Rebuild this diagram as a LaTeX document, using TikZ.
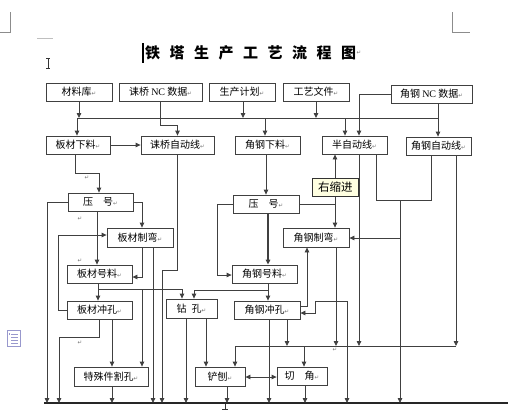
\documentclass[tikz,border=0pt]{standalone}
\usepackage{fontspec}
\setmainfont{Liberation Serif}
\newfontfamily\cjk{Noto Sans CJK SC}
\newfontfamily\symf{DejaVu Sans}
\usetikzlibrary{arrows.meta}
\newcommand\pmk{{\symf\fontsize{5.5}{6}\selectfont\textcolor{black!55}{↵}}}
\newcommand\tsp{\hspace{9.5pt}}
\begin{document}
\begin{tikzpicture}[x=1pt,y=-1pt,
  box/.style={draw=black!75, line width=0.8pt, fill=white, minimum height=18pt, inner sep=0pt, font=\cjk\fontsize{10}{12}\selectfont},
  ln/.style={draw=black!75, line width=0.8pt},
  arr/.style={ln, -{Triangle[length=5pt,width=4.5pt]}},
  darr/.style={ln, {Triangle[length=5pt,width=4.5pt]}-{Triangle[length=5pt,width=4.5pt]}},
  pm/.style={inner sep=0pt}
]
\fill[white] (0,0) rectangle (508,410);
\useasboundingbox (0,0) rectangle (508,410);

% page marks
\draw[black!45, line width=0.7pt] (10,12) -- (10,32) -- (0,32);
\draw[black!45, line width=0.7pt] (452,12) -- (452,32) -- (470,32);
\draw[black!25, line width=0.7pt] (37,38) -- (53,38);
\draw[black!80, line width=0.7pt] (48,58) -- (48,68) (46,58) -- (50,58) (46,68) -- (50,68);
% doc icon
\draw[blue!35!gray!60, line width=0.7pt] (7,330) rectangle (20,346);
\foreach \yy in {334,337,340,343} \draw[blue!35!gray!60, line width=0.6pt] (11,\yy) -- (18,\yy);
\fill[blue!35!gray!60] (8.5,332.5) rectangle (10,335);

% title
\draw[black, line width=1.3pt] (143,43) -- (143,63);
\node[pm, anchor=west] (title) at (145,53) {\cjk\bfseries\fontsize{15}{16}\selectfont 铁\tsp 塔\tsp 生\tsp 产\tsp 工\tsp 艺\tsp 流\tsp 程\tsp 图};
\node[pm, anchor=west] (titlepm) at (title.east) {\pmk};

% row 1
\node[box, minimum width=66pt] (clk)  at (79,92)    {材料库\pmk};
\node[box, minimum width=83pt] (nc1)  at (160.5,92) {诔桥 {\rmfamily NC} 数据\pmk};
\node[box, minimum width=66pt] (plan) at (242,92)   {生产计划\pmk};
\node[box, minimum width=66pt] (doc)  at (316,92)   {工艺文件\pmk};
\node[box, minimum width=81pt] (nc2)  at (431.5,94) {角钢 {\rmfamily NC} 数据\pmk};
% row 2
\node[box, minimum width=64pt] (bxl)   at (78,145)    {板材下料\pmk};
\node[box, minimum width=73pt] (line1) at (177.5,145) {诔桥自动线\pmk};
\node[box, minimum width=65pt] (axl)   at (267.5,145) {角钢下料\pmk};
\node[box, minimum width=65pt] (semi)  at (354.5,145) {半自动线\pmk};
\node[box, minimum width=65pt] (aline) at (438.5,146) {角钢自动线\pmk};
% middle
\node[box, minimum width=65pt] (yh1) at (100.5,202) {压\hspace{1em}号\pmk};
\node[box, minimum width=66pt] (yh2) at (266,204)   {压\hspace{1em}号\pmk};
\node[box, minimum width=66pt, minimum height=19pt] (bzw) at (140,237.5) {板材制弯\pmk};
\node[box, minimum width=66pt, minimum height=19pt] (azw) at (316,237.5) {角钢制弯\pmk};
\node[box, minimum width=65pt] (bhl) at (99.5,274) {板材号料\pmk};
\node[box, minimum width=65pt] (ahl) at (264.5,274) {角钢号料\pmk};
\node[box, minimum width=65pt] (bck) at (99.5,310) {板材冲孔\pmk};
\node[box, minimum width=51pt, minimum height=19pt] (zk) at (191.5,308.5) {钻\hspace{0.5em}孔\pmk};
\node[box, minimum width=66pt] (ack) at (267,310) {角钢冲孔\pmk};
% bottom
\node[box, minimum width=74pt, minimum height=19pt] (tsj) at (111,376.5) {特殊件割孔\pmk};
\node[box, minimum width=50pt, minimum height=19pt] (cb)  at (220,376.5) {铲刨\pmk};
\node[box, minimum width=50pt] (qj) at (302,376) {切\hspace{1em}角\pmk};

% bottom bus
\coordinate (busL) at (44,403);
\coordinate (busR) at (508,403);
\draw[black!85, line width=1.8pt] (busL) -- (busR);
\draw[black!80, line width=0.7pt] (225,404) -- (225,409) (222,409) -- (228,409);

% top bus
\draw[arr] (438,118) -- (77,118) -- (bxl.north -| 77,0);
\draw[arr] (clk.south) -- (79,118);
\draw[arr] (plan.south -| 243,0) -- (243,118);
\draw[arr] (doc.south) -- (316,118);
\draw[arr] (265,118) -- (axl.north -| 265,0);
\draw[arr] (345,118) -- (semi.north -| 345,0);
\draw[arr] (nc2.south -| 438,0) -- (aline.north -| 438,0);
\draw[arr] (nc2.west) -- (359,94) -- (semi.north -| 359,0);
\draw[arr] (nc1.south) -- (160.5,125) -- (177.5,125) -- (line1.north);

% row 2
\draw[arr] (bxl.east) -- (line1.west);
\draw[arr] (bxl.south -| 75,0) -- (75,173) -- (99,173) -- (yh1.north -| 99,0);
\draw[arr] (axl.south -| 266,0) -- (yh2.north -| 266,0);

% plate side
\draw[arr] (yh1.west) -- (47,202) -- (47 ,403);
\draw[arr] (yh1.east) -- (142,202) -- (bzw.north -| 142,0);
\draw[arr] (yh1.south -| 97,0) -- (bhl.north -| 97,0);
\draw[arr] (bck.west) -- (58,310) -- (58,235) -- (bzw.west |- 0,235);
\draw[arr] (bzw.south -| 142,0) -- (142,277) -- (bhl.east |- 0,277);
\draw[arr] (bzw.south -| 153,0) -- (153,403);
\draw[arr] (line1.south -| 177,0) -- (177,270) -- (162,270) -- (162,403);
\draw[arr] (bhl.south -| 98,0) -- (bck.north -| 98,0);
\draw[arr] (98,289) -- (182,289) -- (zk.north -| 182,0);
\draw[arr] (142,289) -- (tsj.north -| 142,0);
\draw[arr] (bck.south -| 99,0) -- (99,337) -- (59,337) -- (59,403);
\draw[arr] (bck.south -| 112,0) -- (tsj.north -| 112,0);
\draw[arr] (tsj.south -| 112,0) -- (112,403);
\draw[arr] (zk.south -| 186,0) -- (186,403);
\draw[arr] (zk.south -| 206,0) -- (cb.north -| 206,0);

% angle side
\draw[arr] (yh2.west) -- (217,204) -- (217,275) -- (ahl.west |- 0,275);
\draw[arr, line width=1.3pt] (yh2.south -| 268,0) -- (ahl.north -| 268,0);
\draw[arr] (yh2.east) -- (335,204) -- (semi.south -| 335,0);
\draw[arr] (335,204) -- (azw.north -| 335,0);
\draw[ln] (semi.south -| 376,0) -- (376,200) -- (431,200) -- (aline.south -| 431,0);
\draw[arr] (400,200) -- (400,403);
\draw[arr] (400,238) -- (azw.east |- 0,238);
\draw[arr] (semi.south -| 359,0) -- (359,346);
\draw[arr] (aline.south -| 456,0) -- (456,346);
\draw[arr] (ahl.south -| 268,0) -- (ack.north -| 268,0);
\draw[arr] (268,290) -- (194,290) -- (zk.north -| 194,0);
\draw[arr] (ack.east |- 0,306) -- (307,306) -- (azw.south -| 307,0);
\draw[darr] (ack.east |- 0,313) -- (315,313) -- (315,301) -- (347,301) -- (347,403);
\draw[arr] (ack.south -| 269,0) -- (269,403);
\draw[arr] (ack.south -| 287,0) -- (287,346);
\draw[arr] (azw.south -| 336,0) -- (336,346);
\draw[arr] (456,346) -- (235,346) -- (cb.north -| 235,0);
\draw[arr] (304,346) -- (qj.north -| 304,0);
\draw[darr] (cb.east |- 0,377) -- (qj.west |- 0,377);
\draw[arr] (cb.south -| 227,0) -- (227,403);
\draw[arr] (qj.south -| 305,0) -- (305,403);

% stray paragraph marks
\node[pm] (p1) at (87,178) {\pmk};
\node[pm] (p2) at (80,219) {\pmk};
\node[pm] (p3) at (80,261) {\pmk};
\node[pm] (p4) at (80,343) {\pmk};
\node[pm] (p5) at (335,350) {\pmk};

% tooltip
\node[draw=black!80, line width=0.6pt, fill={rgb,255:red,255;green,255;blue,225}, minimum width=46pt, minimum height=18pt, inner sep=0pt, anchor=north west, font=\cjk\fontsize{11.5}{12}\selectfont] (tip) at (312,178) {右缩进\hspace{8pt}};
\end{tikzpicture}
\end{document}
